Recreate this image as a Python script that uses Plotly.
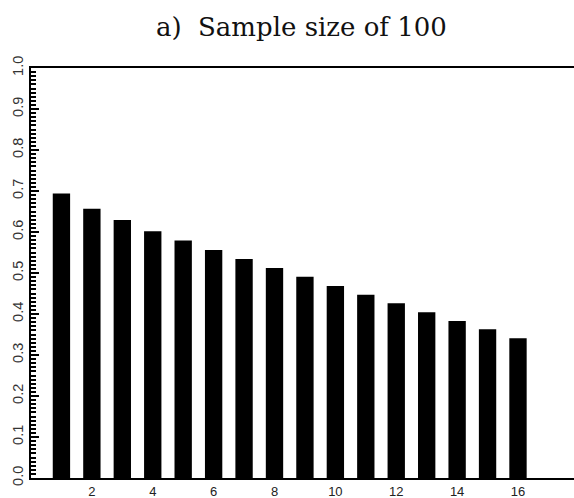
import plotly.graph_objects as go

lags = list(range(1, 17))
values = [0.694, 0.657, 0.629, 0.602, 0.579, 0.556, 0.534, 0.512,
          0.491, 0.468, 0.447, 0.426, 0.404, 0.383, 0.363, 0.341]
x_ticks = [2, 4, 6, 8, 10, 12, 14, 16]
y_tick_step = 0.1
title_text = "a)  Sample size of 100"

fig = go.Figure()
fig.add_trace(go.Bar(
    x=lags, y=values, width=0.57,
    marker=dict(color="black", line=dict(width=0)),
    showlegend=False,
))

fig.update_layout(
    width=574, height=498,
    margin=dict(l=31, r=0, t=68, b=20),
    paper_bgcolor="white", plot_bgcolor="white",
    title=dict(text=title_text, x=0.525, xanchor="center", y=0.945, yanchor="middle",
               font=dict(family="DejaVu Serif", size=26, color="#111")),
)
fig.update_xaxes(
    range=[0, 17.84], tickvals=x_ticks, ticktext=[str(v) for v in x_ticks],
    ticks="", showgrid=False, zeroline=False,
    showline=True, linecolor="black", linewidth=2, mirror=True,
    tickfont=dict(family="Liberation Sans", size=13, color="#222"),
)
fig.update_yaxes(
    range=[0, 1.0], tickmode="linear", tick0=0, dtick=y_tick_step, tickformat=".1f",
    ticks="inside", ticklen=8, tickwidth=2, tickcolor="black",
    minor=dict(dtick=0.01, ticks="inside", ticklen=5, tickwidth=1.5, tickcolor="black"),
    tickangle=-90, showgrid=False, zeroline=False,
    showline=True, linecolor="black", linewidth=2,
    tickfont=dict(family="Liberation Sans", size=14.5, color="#333"),
)

fig.write_html("out.html")
